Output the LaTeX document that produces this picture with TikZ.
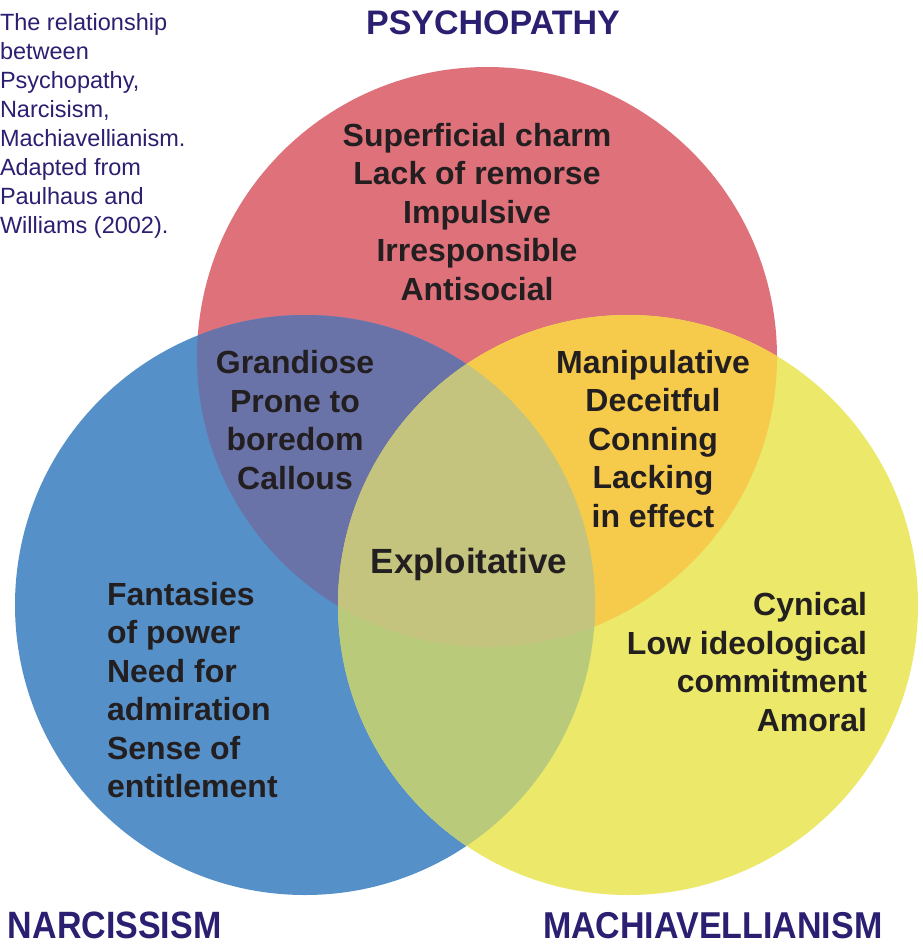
\documentclass[tikz,border=0pt]{standalone}
\usepackage{fontspec}
\setmainfont{Liberation Sans}
\usepackage{xcolor}
\usepackage{tikz}
\usetikzlibrary{positioning}

\definecolor{psyred}{HTML}{DF717B}
\definecolor{narblue}{HTML}{5590C8}
\definecolor{machyellow}{HTML}{EBE86A}
\definecolor{redblue}{HTML}{6A73A8}
\definecolor{redyellow}{HTML}{F6CB4B}
\definecolor{blueyellow}{HTML}{B9CB7B}
\definecolor{allthree}{HTML}{C4C47E}
\definecolor{titleink}{HTML}{2A1F70}
\definecolor{bodyink}{HTML}{231F20}

\begin{document}
\begin{tikzpicture}[x=1pt, y=-1pt,
  every node/.style = {inner sep=0pt, outer sep=0pt},
  trait/.style = {align=center, text=bodyink,
    font=\fontsize{32}{38.5}\selectfont\bfseries},
  heading/.style = {text=titleink, font=\fontsize{34}{40}\selectfont\bfseries}]
  \useasboundingbox (0,0) rectangle (922,948);

  % the three circles
  \def\psycircle{(487,357) circle (290)}
  \def\narcircle{(305,605) circle (290)}
  \def\machcircle{(628,605) circle (290)}
  \fill[psyred] \psycircle;
  \fill[narblue] \narcircle;
  \fill[machyellow] \machcircle;

  % overlaps
  \begin{scope}
    \clip \psycircle;
    \fill[redblue] \narcircle;
    \fill[redyellow] \machcircle;
  \end{scope}
  \begin{scope}
    \clip \narcircle;
    \fill[blueyellow] \machcircle;
    \clip \machcircle;
    \fill[allthree] \psycircle;
  \end{scope}

  \node[anchor=north west, align=left, text=titleink,
    font=\fontsize{23.5}{29}\selectfont] (caption) at (0,13)
    {The relationship\\between\\Psychopathy,\\Narcisism,\\Machiavellianism.\\Adapted from\\Paulhaus and\\Williams (2002).};

  \node[heading] (psy) at (493,23) {PSYCHOPATHY};
  \node[heading, anchor=west] (nar) at (8,925) {\scalebox{1}[1.12]{NARCISSISM}};
  \node[heading, anchor=west] (mach) at (543,926) {\scalebox{1}[1.1]{MACHIAVELLIANISM}};

  \node[trait] (psytraits) at (477,212)
    {Superficial charm\\Lack of remorse\\Impulsive\\Irresponsible\\Antisocial};
  \node[trait] (psynar) at (295,420)
    {Grandiose\\Prone to\\boredom\\Callous};
  \node[trait] (psymach) at (653,439)
    {Manipulative\\Deceitful\\Conning\\Lacking\\in effect};
  \node[trait, font=\fontsize{35}{40}\selectfont\bfseries] (core) at (469,564) {Exploitative};
  \node[trait, align=left, anchor=west] (nartraits) at (107,690)
    {Fantasies\\of power\\Need for\\admiration\\Sense of\\entitlement};
  \node[trait, align=right, anchor=east] (machtraits) at (867,662)
    {Cynical\\Low ideological\\commitment\\Amoral};
\end{tikzpicture}
\end{document}
